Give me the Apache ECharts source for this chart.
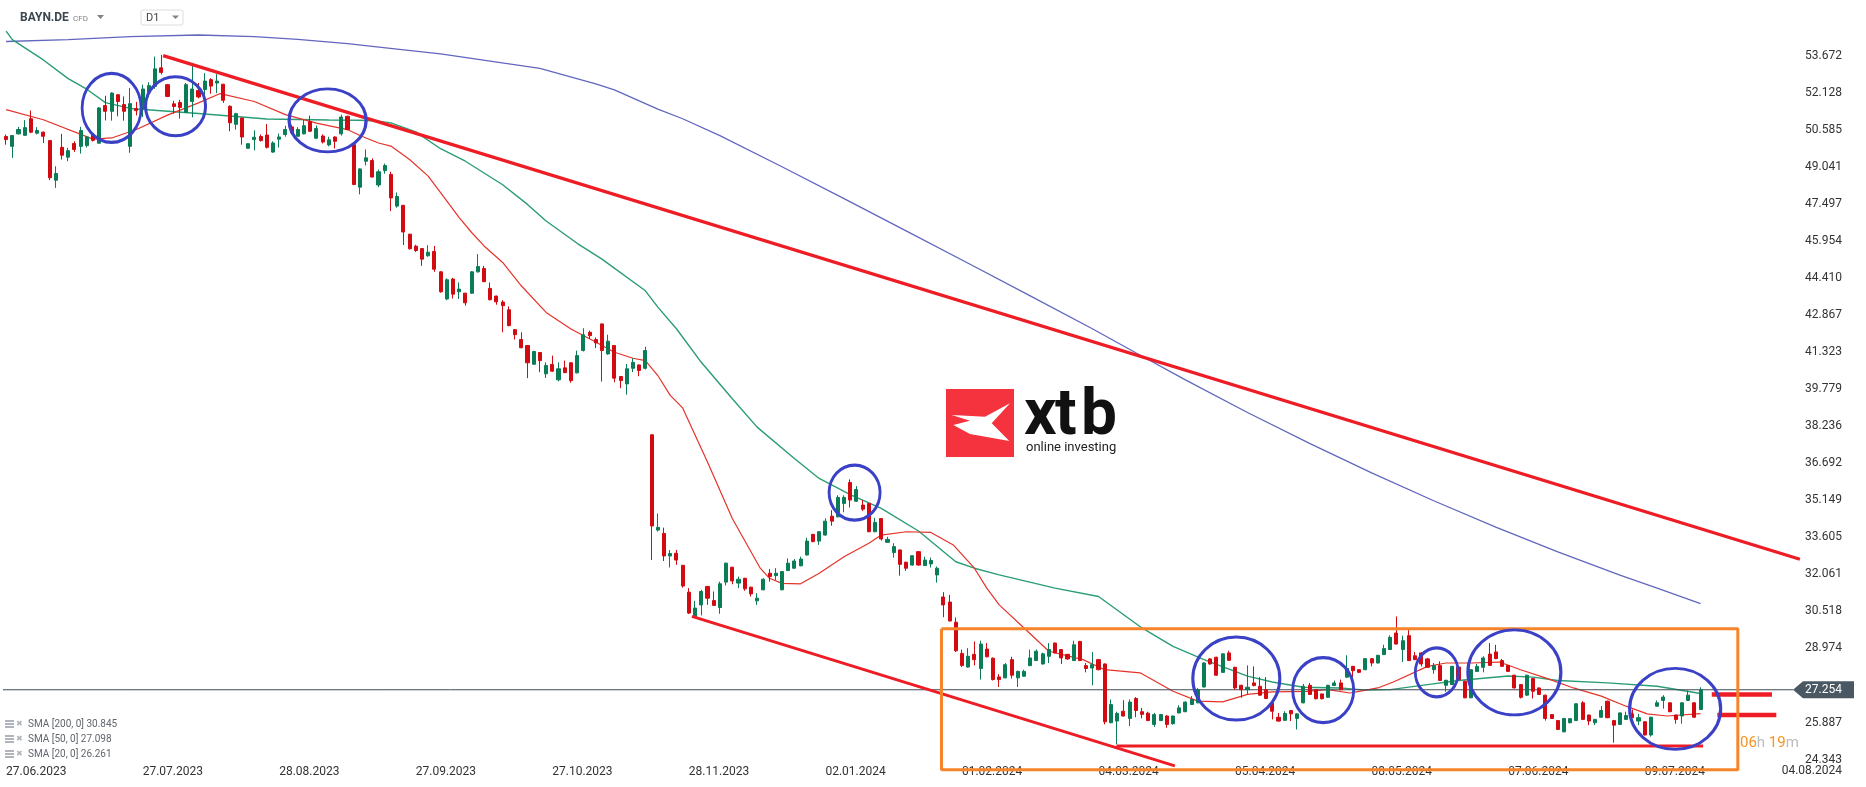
<!DOCTYPE html>
<html><head><meta charset="utf-8">
<script src="https://cdn.jsdelivr.net/npm/echarts@6/dist/echarts.min.js"></script>
<style>html,body{margin:0;padding:0;background:#fff}#c{width:1866px;height:787px}</style>
</head><body><div id="c"></div>
<script>
// ---------- DATA ----------
const symbolName = 'BAYN.DE';
const timeframe = 'D1';
const firstDate = '27.06.2023';
const holidays = ['25.12.2023','26.12.2023','01.01.2024','29.03.2024','01.04.2024','01.05.2024'];
const xTickLabels = ['27.06.2023','27.07.2023','28.08.2023','27.09.2023','27.10.2023','28.11.2023','02.01.2024','01.02.2024','04.03.2024','05.04.2024','08.05.2024','07.06.2024','09.07.2024'];
const yTickLabels = [24.343,25.887,28.974,30.518,32.061,33.605,35.149,36.692,38.236,39.779,41.323,42.867,44.410,45.954,47.497,49.041,50.585,52.128,53.672];
const lastPrice = 27.254;
const axisEndDate = '04.08.2024';
const countdown = ['06','h ','19','m'];

const open = [50.31,49.90,50.42,50.36,51.05,50.45,50.49,50.14,48.49,49.86,49.45,50.02,49.90,49.93,50.38,50.03,51.60,51.36,52.05,51.64,
49.90,51.47,51.46,52.15,52.40,53.17,52.47,51.67,51.73,51.32,51.77,52.23,52.27,52.68,52.54,52.49,51.57,50.82,51.08,49.82,
50.18,50.31,50.37,49.66,50.20,50.39,50.71,50.32,50.42,50.93,50.24,50.33,49.96,50.29,50.42,51.15,49.97,48.20,49.28,49.31,
48.29,48.89,48.73,47.41,47.44,46.24,45.74,45.64,45.34,45.52,44.67,43.54,44.37,43.84,43.78,43.78,44.67,44.81,43.98,43.66,
43.41,43.09,42.26,41.85,41.60,40.82,41.31,40.42,40.81,40.17,40.67,40.88,40.46,41.39,42.15,41.85,42.50,41.25,41.60,40.31,
40.00,40.65,40.79,40.65,37.88,33.91,33.77,32.83,32.94,32.44,31.32,30.27,30.79,31.56,30.97,30.68,31.74,32.36,31.70,31.90,
31.53,30.96,31.42,32.11,32.01,31.42,32.22,32.32,32.42,32.87,33.73,33.45,33.70,34.49,34.46,35.02,35.89,35.11,34.95,35.02,
33.84,34.39,33.40,32.97,33.08,32.57,32.45,33.01,32.43,32.50,32.04,31.12,30.91,30.07,28.77,28.20,28.73,28.14,28.95,28.57,
27.79,27.75,28.51,27.75,27.82,28.26,28.47,28.33,28.65,29.20,28.93,28.73,28.47,29.27,28.26,28.16,28.51,28.33,25.88,25.95,
26.36,26.06,26.89,26.34,26.28,25.81,25.97,26.16,25.84,26.29,26.34,26.64,26.71,27.37,28.54,28.61,27.98,28.79,28.19,27.44,
27.26,27.54,27.40,27.26,26.71,26.11,25.98,26.39,26.06,26.71,27.44,27.26,27.08,26.94,27.43,27.54,27.78,28.23,28.09,28.09,
28.55,28.37,28.72,28.93,29.62,28.93,29.51,28.67,28.79,28.54,28.09,28.26,27.44,27.47,28.20,27.61,26.92,28.02,28.19,28.74,
28.83,28.47,28.27,27.86,27.47,27.03,27.72,27.33,27.03,26.22,25.97,25.50,25.88,25.97,26.71,26.20,25.88,26.11,26.78,25.97,
25.81,26.02,26.25,25.95,25.92,25.37,26.57,26.81,26.71,26.20,26.16,26.81,26.71,26.43];
const high = [50.39,50.37,50.71,50.99,51.39,50.70,50.52,50.16,49.07,50.42,49.84,50.11,50.71,50.30,50.45,51.54,52.01,52.15,52.08,51.98,
52.33,51.75,52.47,52.57,53.64,53.71,52.50,51.80,51.84,52.54,53.26,52.54,52.95,52.74,52.91,52.50,51.61,51.30,51.10,50.03,
50.57,50.39,50.83,50.11,50.43,50.76,50.80,50.70,51.01,51.18,50.77,50.40,50.30,50.32,51.22,51.18,49.99,48.98,49.77,49.40,
48.93,49.18,48.84,47.98,47.46,46.26,45.80,45.66,45.78,45.75,44.70,44.40,44.42,44.23,43.80,44.70,45.41,44.92,44.23,43.68,
43.49,43.23,42.28,42.15,41.62,41.38,41.33,40.90,41.18,40.90,40.97,40.90,41.39,42.32,42.22,41.94,42.52,42.05,41.62,40.33,
40.83,41.07,40.81,41.55,37.90,34.60,34.01,33.08,33.08,32.45,31.49,30.96,31.42,31.58,31.35,31.76,32.55,32.38,31.97,31.92,
31.55,31.28,31.90,32.29,32.32,32.20,32.73,32.70,32.80,33.59,33.75,33.86,34.40,34.74,35.36,35.36,36.02,35.74,35.16,35.04,
34.42,34.41,33.63,33.36,33.10,32.59,32.86,33.03,32.80,32.76,32.39,31.32,31.21,30.27,28.93,28.99,29.27,29.30,29.20,28.60,
27.91,28.37,28.63,28.05,28.09,28.93,28.93,28.80,29.20,29.22,28.95,28.75,29.30,29.29,28.37,28.83,28.54,28.35,26.85,26.34,
26.82,26.85,26.95,26.50,26.34,26.29,26.25,26.20,26.18,26.61,26.77,26.99,27.33,28.40,28.58,28.63,28.77,28.88,28.21,27.46,
28.27,28.23,27.78,27.78,26.73,26.29,26.36,26.41,26.27,27.50,27.54,27.28,27.10,27.46,27.64,27.68,28.69,28.25,28.12,28.58,
28.58,28.71,29.13,29.52,30.31,29.51,29.76,28.83,28.81,28.58,28.37,28.44,27.67,28.25,28.22,27.63,28.11,28.33,28.65,29.20,
29.13,28.54,28.29,27.88,27.49,27.88,27.74,27.35,27.05,26.24,25.99,26.08,26.07,26.69,26.78,26.22,26.04,26.57,26.80,26.00,
26.31,26.34,26.43,26.25,25.94,26.13,26.81,27.03,26.73,26.22,26.73,27.22,26.73,27.36];
const low = [49.97,49.42,50.39,50.33,50.45,50.40,50.04,48.49,48.17,49.35,49.28,49.66,49.60,49.85,50.10,50.03,50.98,50.97,51.15,50.97,
49.63,51.19,51.12,51.95,52.30,52.90,51.95,51.26,51.06,51.30,51.11,51.90,52.05,52.09,52.12,51.71,50.53,50.60,49.97,49.80,
49.73,50.10,49.81,49.63,49.85,50.30,50.40,50.30,50.40,50.50,50.20,50.02,49.90,49.81,50.35,50.57,48.28,47.90,49.10,48.60,
48.20,48.76,47.20,47.34,45.79,45.60,45.50,44.92,45.30,44.67,43.80,43.49,43.56,43.54,43.26,43.75,44.64,44.24,43.48,43.30,
42.15,42.40,41.85,41.48,40.24,40.80,40.49,40.25,40.50,40.11,40.45,40.05,40.44,41.35,41.87,41.49,40.10,41.22,40.07,39.82,
39.55,40.49,40.32,40.60,32.66,33.85,32.62,32.35,32.46,31.51,30.41,30.25,30.35,30.79,30.75,30.42,31.60,31.65,31.49,31.38,
31.14,30.79,31.40,31.76,31.83,31.40,32.20,32.30,32.40,32.85,33.40,33.29,33.68,34.09,34.44,34.65,34.85,35.09,34.70,33.82,
33.82,33.47,33.38,32.76,32.01,32.21,32.43,32.43,32.41,32.35,31.72,30.28,30.10,28.83,28.20,28.18,28.27,27.68,28.60,27.64,
27.37,27.73,27.72,27.37,27.80,28.24,28.45,28.30,28.37,28.77,28.33,28.50,28.45,28.45,27.98,27.44,28.07,25.81,25.86,24.98,
26.14,25.74,26.11,26.06,25.95,25.70,25.95,25.67,25.80,26.27,26.32,26.62,26.69,27.35,28.30,27.84,27.96,28.46,27.26,26.92,
27.06,27.40,27.00,26.87,26.02,25.92,25.96,25.95,25.60,26.69,27.04,26.85,26.85,26.92,27.41,27.24,27.76,27.78,27.95,28.07,
28.23,28.35,28.70,28.91,29.14,28.41,28.45,28.49,28.23,28.17,27.92,27.62,27.17,27.45,27.66,26.90,26.90,28.00,27.98,28.25,
28.53,28.21,28.00,27.31,26.89,27.01,26.89,27.04,25.97,26.04,25.58,25.48,25.86,25.95,26.00,25.78,25.78,26.09,26.07,25.05,
25.79,26.00,26.07,25.78,25.35,25.30,26.55,26.47,26.32,25.84,25.84,26.79,26.09,26.41];
const close = [50.18,50.35,50.60,50.68,50.49,50.56,50.32,48.59,48.77,49.53,49.72,49.77,50.56,50.29,50.15,51.50,51.36,52.12,51.77,51.36,
51.68,51.39,52.29,52.43,53.13,52.98,51.98,51.56,51.52,52.47,52.29,51.96,52.62,52.41,52.62,51.82,50.88,51.26,50.29,50.01,
50.28,50.14,49.86,50.04,50.29,50.60,50.46,50.60,50.76,50.53,50.64,50.08,50.17,50.11,51.12,50.60,48.31,48.96,49.42,48.62,
48.84,49.10,47.75,47.81,46.33,45.63,45.56,45.20,45.49,44.78,43.84,44.34,43.74,43.95,43.38,44.67,44.89,44.26,43.51,43.42,
43.26,42.43,42.05,41.51,40.88,41.35,40.97,40.77,40.53,40.63,40.47,40.14,41.18,42.05,42.01,41.71,41.39,41.78,40.24,40.14,
40.63,40.90,40.56,41.39,34.08,34.02,32.83,32.93,32.66,31.58,30.45,30.66,31.35,31.07,30.77,31.67,32.53,31.79,31.86,31.46,
31.25,31.07,31.86,31.97,32.11,32.18,32.53,32.62,32.70,33.45,33.43,33.84,34.28,34.28,35.27,35.27,35.16,35.60,34.78,33.84,
34.23,33.54,33.52,33.22,32.48,32.32,32.84,32.45,32.66,32.64,32.32,30.79,30.12,28.88,28.27,28.65,28.51,29.16,28.63,27.68,
27.68,28.30,27.86,28.02,28.02,28.58,28.86,28.75,28.93,28.79,28.58,28.54,29.13,28.47,28.14,28.30,28.09,25.92,26.64,26.27,
26.16,26.74,26.39,26.23,25.97,26.22,26.22,25.81,26.16,26.50,26.74,26.85,27.26,28.37,28.33,27.86,28.75,28.48,27.33,27.26,
27.36,27.43,27.03,26.89,26.36,25.95,26.27,26.25,26.25,27.40,27.06,26.88,26.88,27.44,27.54,27.26,28.14,28.05,27.98,28.55,
28.37,28.69,28.97,29.44,29.16,29.30,28.47,28.51,28.33,28.19,28.26,27.64,27.65,28.23,27.68,26.92,28.09,28.23,28.58,28.27,
28.55,28.23,28.02,27.33,26.94,27.86,27.19,27.06,26.06,26.06,25.60,26.06,26.05,26.67,26.02,25.95,26.02,26.39,26.09,25.78,
26.29,26.18,26.09,26.09,25.37,26.11,26.71,26.95,26.34,26.02,26.71,27.03,26.11,27.25];

// Moving averages at sample candles: [candle number, value]
const sma200 = [[0,54.27],[10,54.35],[20,54.47],[31,54.54],[40,54.47],[47,54.36],[55,54.18],[63,53.95],[70,53.75],[78,53.45],[86,53.15],[95,52.5],[98,52.25],[105,51.45],[109,51.05],[115,50.35],[125,49.05],[135,47.72],[145,46.38],[155,45.03],[165,43.67],[175,42.3],[182,41.3],[190,40.17],[200,38.81],[210,37.52],[220,36.29],[230,35.13],[240,34.03],[250,33.0],[260,32.03],[266,31.49],[273,30.845]];
const sma50 = [[0,54.7],[1,54.35],[6,53.5],[10,52.72],[13,52.28],[16,51.72],[20,51.48],[31,51.27],[42,51.04],[52,51.0],[57,50.99],[60,50.95],[62,50.88],[66,50.5],[70,49.8],[74,49.28],[80,48.3],[84,47.48],[87,46.79],[92,45.86],[96,45.2],[103,43.88],[105,43.2],[108,42.3],[112,40.9],[117,39.38],[121,38.2],[127,36.89],[131,36.06],[136,35.39],[141,34.81],[147,33.87],[153,32.59],[156,32.32],[160,32.04],[169,31.49],[176,31.14],[183,29.83],[188,29.06],[193,28.51],[200,27.82],[204,27.58],[209,27.36],[215,27.33],[219,27.24],[223,27.26],[229,27.47],[234,27.64],[242,27.83],[246,27.78],[250,27.64],[258,27.54],[266,27.40],[273,27.098]];
const sma20 = [[0,51.43],[6,51.01],[14,50.2],[17,50.25],[21,50.6],[26,51.2],[31,51.71],[34.5,52.1],[40,51.77],[45,51.22],[50,50.87],[55,50.6],[57,50.35],[60,50.04],[62,49.91],[65,49.35],[68,48.66],[70,47.97],[73,46.93],[75,46.31],[77,45.75],[80,45.06],[83,44.09],[87,42.98],[91,42.29],[94.6,41.8],[98,41.32],[101,41.07],[103,40.97],[105,40.35],[107,39.52],[109,39.0],[113,36.75],[117,34.39],[121.5,32.32],[123,31.9],[125,31.69],[128,31.67],[131,32.11],[135,32.8],[139,33.36],[141,33.7],[145,33.84],[149,33.81],[152.6,33.29],[156,32.32],[158,31.49],[160,30.79],[164,29.83],[168,28.86],[173.5,28.51],[177,28.09],[182.7,27.96],[188,27.19],[192,26.78],[196,26.75],[200,27.06],[204,27.17],[209.5,27.19],[213,27.26],[216.5,27.12],[218,27.19],[221,27.33],[223.5,27.58],[229,28.23],[232,28.37],[236,28.37],[240.6,28.41],[244,28.09],[248,27.75],[252.5,27.33],[257,26.99],[261,26.57],[264.4,26.25],[267.6,26.16],[273,26.261]];
const smaLegend = [['SMA [200, 0]', 30.845], ['SMA [50, 0]', 27.098], ['SMA [20, 0]', 26.261]];

// Drawn annotations in chart coordinates: [candle number, price]
const upperTrend = [[25.3,53.68],[289.0,32.69]];
const lowerTrend = [[110.5,30.31],[188.3,24.08]];
const supportLine = [[178.9,24.91],[273.4,24.91]];
const markerHigh = [[274.8,27.06],[284.5,27.06]];
const markerLow = [[275.7,26.20],[285.2,26.20]];
const rangeBox = {x0:150.7, x1:279.0, y0:23.925, y1:29.80};
const circleCenters = [[17.0,51.50],[27.3,51.57],[51.8,50.98],[136.7,35.47],[198.2,27.72],[212.2,27.24],[230.5,27.98],[243.0,27.98],[268.9,26.46]];
const circleSizes = [[59,69],[60,59],[77,63],[51,55],[87,83],[61,65],[43,49],[93,85],[91,81]];

// ---------- BUILD ----------
function fmt(d){return String(d.getUTCDate()).padStart(2,'0')+'.'+String(d.getUTCMonth()+1).padStart(2,'0')+'.'+d.getUTCFullYear();}
const [dd,mm,yy] = firstDate.split('.').map(Number);
const dates = [];
let d = new Date(Date.UTC(yy,mm-1,dd));
while (dates.length < open.length) {
  const wd = d.getUTCDay(); const s = fmt(d);
  if (wd !== 0 && wd !== 6 && holidays.indexOf(s) < 0) dates.push(s);
  d = new Date(d.getTime() + 86400000);
}
const NCAT = 290;
const categories = dates.concat(new Array(NCAT - dates.length).fill(''));
const candles = open.map((o,k)=>[o, close[k], low[k], high[k]]);

const FONT = 'Roboto, "Noto Sans", sans-serif';
const RED = '#ee1c25', BLUE = '#3a41c6', ORANGE = '#f7842a';
const UP = '#0a7c56', DOWN = '#d20a12';

const chart = echarts.init(document.getElementById('c'), null, {renderer:'canvas'});
const lineSeries = (data, color, width, z) => ({type:'line', xAxisIndex:1, yAxisIndex:0, data, showSymbol:false, symbol:'none', silent:true, z, lineStyle:{color, width}, clip:false});

const option = {
  animation:false,
  backgroundColor:'#ffffff',
  grid:{left:3, right:63, top:0, bottom:0},
  xAxis:[
    {type:'category', data:categories, boundaryGap:true, axisLine:{show:false}, axisTick:{show:false}, splitLine:{show:false},
     axisLabel:{inside:true, margin:9, align:'left', color:'#333', fontSize:12, fontFamily:FONT,
       interval:(i, v)=> xTickLabels.indexOf(v) >= 0}},
    {type:'value', min:-0.5, max:NCAT-0.5, show:false}
  ],
  yAxis:{type:'value', position:'right', min:23.2022, max:55.9985, axisLine:{show:false}, axisTick:{show:false}, splitLine:{show:false},
    axisLabel:{customValues:yTickLabels, formatter:v=>v.toFixed(3), align:'right', margin:39, color:'#333', fontSize:12, fontFamily:FONT}},
  series:[
    lineSeries(sma200, '#6266bf', 1.3, 2),
    lineSeries(sma50, '#2a9d74', 1.4, 2),
    lineSeries(sma20, '#e5332a', 1.2, 2),
    {type:'candlestick', xAxisIndex:0, yAxisIndex:0, data:candles, barWidth:3.6, z:3, silent:true,
     itemStyle:{color:UP, color0:DOWN, borderColor:UP, borderColor0:DOWN, borderWidth:1}},
    lineSeries([[-0.5,lastPrice],[287.9,lastPrice]], '#3f4b55', 1, 3),
    lineSeries(upperTrend, RED, 3.2, 4),
    lineSeries(lowerTrend, RED, 3, 4),
    lineSeries(supportLine, RED, 3, 4),
    lineSeries(markerHigh, RED, 4.5, 4),
    lineSeries(markerLow, RED, 4.5, 4),
    lineSeries([[rangeBox.x0,rangeBox.y1],[rangeBox.x1,rangeBox.y1],[rangeBox.x1,rangeBox.y0],[rangeBox.x0,rangeBox.y0],[rangeBox.x0,rangeBox.y1]], ORANGE, 3, 4),
    {type:'scatter', xAxisIndex:1, yAxisIndex:0, silent:true, z:5,
     data:circleCenters.map((c,k)=>({value:c, symbolSize:circleSizes[k]})),
     symbol:'circle', itemStyle:{color:'rgba(0,0,0,0)', borderColor:BLUE, borderWidth:3, opacity:1}}
  ]
};
chart.setOption(option);

const py = chart.convertToPixel({yAxisIndex:0}, lastPrice);
const gfx = [];
// header
gfx.push({type:'text', x:20, y:18, style:{text:symbolName, font:'bold 12px '+FONT, fill:'#3b4650', textVerticalAlign:'middle'}});
gfx.push({type:'text', x:73, y:19, style:{text:'CFD', font:'8px '+FONT, fill:'#7d848c', textVerticalAlign:'middle'}});
gfx.push({type:'polygon', shape:{points:[[97,15],[104,15],[100.5,19]]}, style:{fill:'#7d838a'}});
gfx.push({type:'rect', shape:{x:141,y:10,width:42,height:15,r:2}, style:{fill:'#fff', stroke:'#dcdcdc', lineWidth:1}});
gfx.push({type:'text', x:146, y:18, style:{text:timeframe, font:'11px '+FONT, fill:'#444', textVerticalAlign:'middle'}});
gfx.push({type:'polygon', shape:{points:[[172,15.5],[179,15.5],[175.5,19]]}, style:{fill:'#7d838a'}});
// SMA legend
smaLegend.forEach((row,k)=>{
  const yy2 = 724 + k*15;
  gfx.push({type:'rect', shape:{x:5,y:yy2-4,width:9,height:2}, style:{fill:'#b0b5bb'}});
  gfx.push({type:'rect', shape:{x:5,y:yy2-1,width:9,height:2}, style:{fill:'#b0b5bb'}});
  gfx.push({type:'rect', shape:{x:5,y:yy2+2,width:9,height:2}, style:{fill:'#b0b5bb'}});
  gfx.push({type:'text', x:16, y:yy2, style:{text:'✖', font:'8px '+FONT, fill:'#b0b5bb', textVerticalAlign:'middle'}});
  gfx.push({type:'text', x:28, y:yy2, style:{text:row[0]+' '+row[1].toFixed(3), font:'10px '+FONT, fill:'#60666d', textVerticalAlign:'middle'}});
});
// price tag
gfx.push({type:'polygon', z:10, shape:{points:[[1793,py],[1803,py-8.5],[1854,py-8.5],[1854,py+8.5],[1803,py+8.5]]}, style:{fill:'#4a5863'}});
gfx.push({type:'text', z:11, x:1842, y:py, style:{text:lastPrice.toFixed(3), font:'12px '+FONT, fill:'#ffffff', textAlign:'right', textVerticalAlign:'middle'}});
// axis end date
gfx.push({type:'text', x:1842, y:771, style:{text:axisEndDate, font:'12px '+FONT, fill:'#333', textAlign:'right', textVerticalAlign:'middle'}});
// countdown
gfx.push({type:'text', x:1740, y:743, style:{text:'{o|'+countdown[0]+'}{g|'+countdown[1]+'}{o|'+countdown[2]+'}{g|'+countdown[3]+'}', font:'15px '+FONT, textVerticalAlign:'middle',
  rich:{o:{fill:'#f7931e', font:'15px '+FONT}, g:{fill:'#b9bcc0', font:'15px '+FONT}}}});
// watermark logo
gfx.push({type:'rect', shape:{x:946,y:389,width:68,height:68}, style:{fill:'#f5333f'}});
gfx.push({type:'polygon', shape:{points:[[951.7,415],[985,416.7],[1010,403.3],[991.7,423.3],[1009.3,441],[970,434],[953.3,425],[970,420.7]]}, style:{fill:'#ffffff'}});
gfx.push({type:'text', x:1024, y:450, style:{text:'x', font:'bold 64px '+FONT, fill:'#111', textVerticalAlign:'bottom'}});
gfx.push({type:'text', x:1055, y:450, style:{text:'t', font:'bold 64px '+FONT, fill:'#111', textVerticalAlign:'bottom'}});
gfx.push({type:'text', x:1081, y:450, style:{text:'b', font:'bold 64px '+FONT, fill:'#111', textVerticalAlign:'bottom'}});
gfx.push({type:'text', x:1026, y:448, style:{text:'online investing', font:'13px '+FONT, fill:'#222', textVerticalAlign:'middle'}});

chart.setOption({graphic:gfx});
</script></body></html>
